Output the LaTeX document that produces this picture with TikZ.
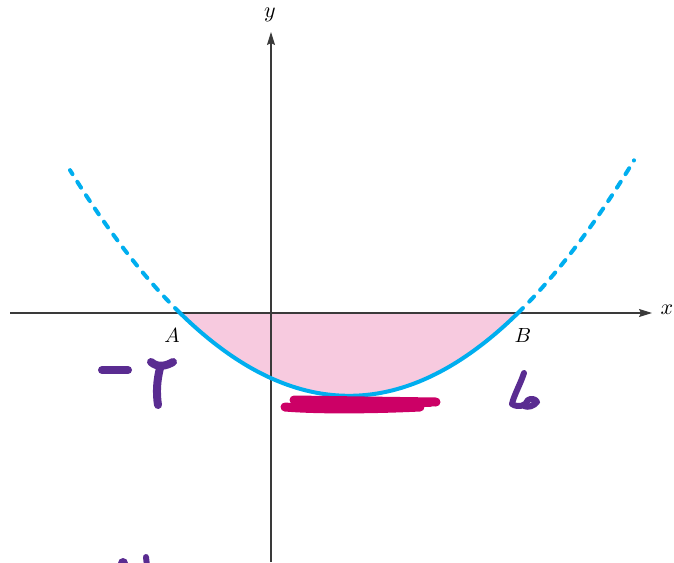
\documentclass[tikz,border=0pt]{standalone}
\usetikzlibrary{arrows.meta}
\definecolor{curvecol}{HTML}{00AEEF}
\definecolor{fillcol}{HTML}{F7CADF}
\definecolor{axiscol}{HTML}{3A3A3A}
\definecolor{inkpurple}{HTML}{5A2C91}
\definecolor{inkmagenta}{HTML}{CC0066}
\tikzset{
  axisline/.style={draw=axiscol,line width=1.1pt,-{Stealth[length=13pt,width=8pt,inset=2pt]}},
  curvesolid/.style={draw=curvecol,line width=4pt},
  curvedash/.style={draw=curvecol,line width=4pt,line cap=round,dash pattern=on 7pt off 9pt},
  lbl/.style={inner sep=0pt,scale=2.05},
  axlbl/.style={inner sep=0pt,scale=2.2},
  inkp/.style={draw=inkpurple,line width=8pt,line cap=round,line join=round},
  inkm/.style={draw=inkmagenta,line width=9pt,line cap=round,line join=round}
}
\begin{document}
\begin{tikzpicture}[x=1pt,y=-1pt]
\useasboundingbox (0,0) rectangle (674,562);
% fill
\fill[fillcol] plot[domain=180:518,samples=80] (\x,{313-0.0029*(\x-180)*(\x-518)}) -- cycle;
% axes
\coordinate (xs) at (10,313);
\coordinate (xe) at (652,313);
\coordinate (ys) at (271,562);
\coordinate (ye) at (271,32);
\draw[axisline] (xs) -- (xe);
\draw[axisline] (ys) -- (ye);
\node[axlbl] (xl) at (667,310) {$x$};
\node[axlbl] (yl) at (270,15) {$y$};
% curve
\draw[curvedash] plot[domain=180:70,samples=40] (\x,{313-0.0029*(\x-180)*(\x-518)});
\draw[curvedash] plot[domain=518:634,samples=40] (\x,{313-0.0029*(\x-180)*(\x-518)});
\draw[curvesolid] plot[domain=180:518,samples=100] (\x,{313-0.0029*(\x-180)*(\x-518)});
\node[lbl] (A) at (172,335) {$A$};
\node[lbl] (B) at (523,335) {$B$};
% handwriting: -7
\draw[inkp] (102,370) -- (128,370);
\draw[inkp] (151,362) .. controls (158,368) and (166,366) .. (173,362);
\draw[inkp] (160,368) .. controls (157,380) and (156,392) .. (158,405);
% handwriting: 6
\draw[inkp,line width=6pt] (524,373) .. controls (520,385) and (514,395) .. (512,404) .. controls (518,408) and (526,406) .. (528,400) .. controls (531,398) and (536,399) .. (537,402) .. controls (534,406) and (528,408) .. (524,406);
% magenta bar
\draw[inkm] (294,400) -- (436,402);
\draw[inkm] (285,407) .. controls (320,410) and (380,409) .. (420,407);
\draw[inkm,line width=6pt] (300,404) -- (430,404);
% bottom marks
\fill[inkpurple] (123,563) circle (5pt);
\draw[inkp,line width=6pt] (146,557) -- (147,566);
\end{tikzpicture}
\end{document}
